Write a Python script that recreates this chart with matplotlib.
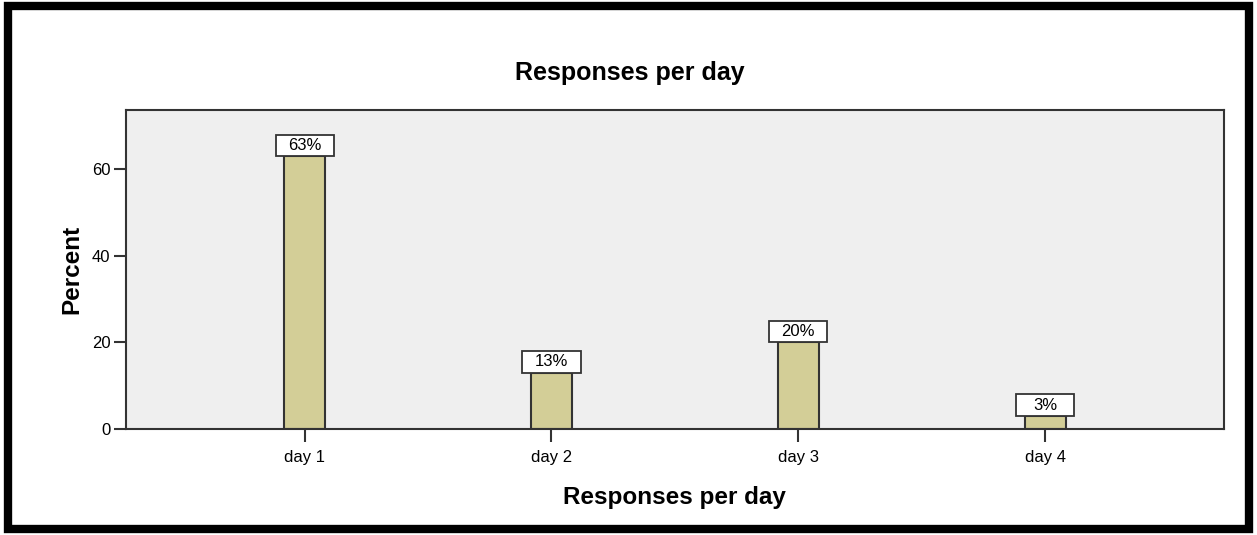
import matplotlib.pyplot as plt
from matplotlib.patches import Rectangle

days = ["day 1", "day 2", "day 3", "day 4"]
percent = [63, 13, 20, 3]
pct_labels = ["63%", "13%", "20%", "3%"]

plt.rcParams['font.family'] = ['Liberation Sans', 'DejaVu Sans']

fig = plt.figure(figsize=(12.57, 5.35), dpi=100)
ax = fig.add_axes([125.7 / 1257, (535 - 429) / 535, (1224 - 125.7) / 1257, (429 - 110) / 535])
ax.set_facecolor('#efefef')

x = list(range(len(days)))
ax.bar(x, percent, width=0.166, color='#d3ce97', edgecolor='#333333', linewidth=1.5, zorder=2)

# value labels in white boxes sitting on top of each bar
box_w, box_h = 0.236, 5.0
for xi, v, lab in zip(x, percent, pct_labels):
    ax.add_patch(Rectangle((xi - box_w / 2, v), box_w, box_h, fc='white',
                           ec='#333333', lw=1.3, zorder=3))
    ax.text(xi, v + box_h / 2, lab, ha='center', va='center', fontsize=12, zorder=4)

ax.set_xlim(-0.725, 3.725)
ax.set_ylim(0, 73.7)
ax.set_yticks([0, 20, 40, 60])
ax.set_xticks(x)
ax.set_xticklabels(days)
ax.tick_params(axis='both', labelsize=12, length=9, width=1.5, color='#333333')
ax.tick_params(axis='x', pad=6)
ax.tick_params(axis='y', pad=2)
for s in ax.spines.values():
    s.set_color('#333333')
    s.set_linewidth(1.5)

ax.set_xlabel("Responses per day", fontsize=17.5, fontweight='bold', labelpad=15)
ax.set_ylabel("Percent", fontsize=17.5, fontweight='bold', labelpad=6)
fig.text(630 / 1257, 1 - 73 / 535, "Responses per day", ha='center', va='center',
         fontsize=18, fontweight='bold')

# black frame around the whole chart
fig.patches.append(Rectangle((8 / 1257, 6 / 535), 1 - 16 / 1257, 1 - 12 / 535,
                             transform=fig.transFigure, fill=False, ec='black', lw=6))

fig.savefig("out.png", dpi=100)
